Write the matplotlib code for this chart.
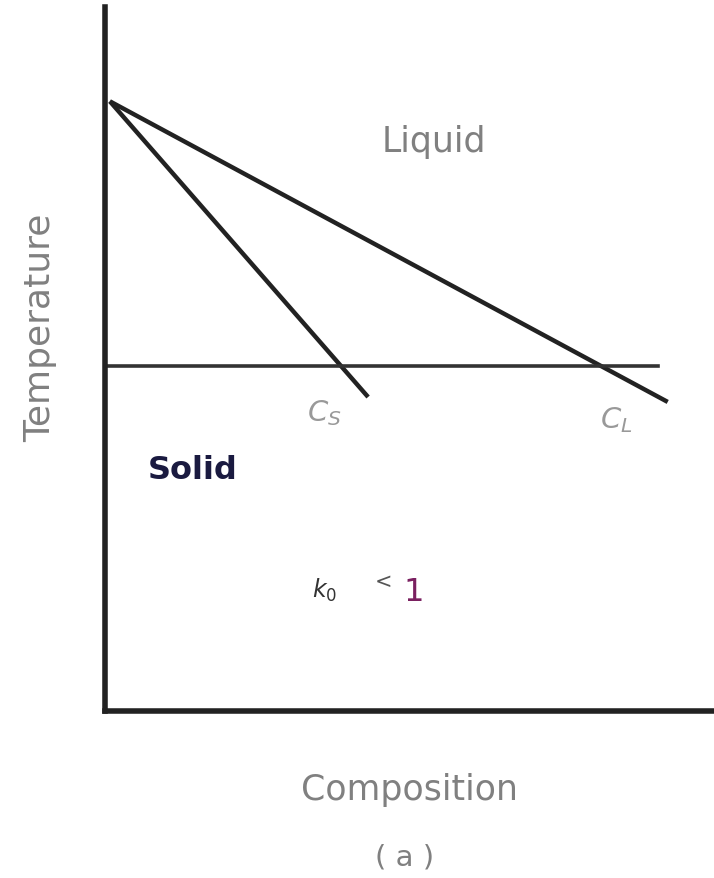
import matplotlib
matplotlib.use("Agg")
import matplotlib.pyplot as plt

# Phase diagram for a binary alloy with distribution coefficient k0 < 1
melt_point = (0.008, 0.866)        # pure solvent melting point (composition, temperature)
liquidus_end = (0.924, 0.439)
solidus_end = (0.432, 0.446)
tie_temperature = 0.490
tie_span = (0.0, 0.908)

fig = plt.figure(figsize=(7.14, 8.79), dpi=100)
ax = fig.add_axes([105 / 714, (879 - 712) / 879, (714 - 105) / 714, (712 - 8) / 879])
ax.set_xlim(0, 1)
ax.set_ylim(0, 1)
ax.set_xticks([])
ax.set_yticks([])
for side in ("top", "right"):
    ax.spines[side].set_visible(False)
for side in ("left", "bottom"):
    ax.spines[side].set_linewidth(4)
    ax.spines[side].set_color("#222222")

line_kw = dict(color="#222222", lw=3.2, solid_capstyle="butt")
ax.plot([melt_point[0], liquidus_end[0]], [melt_point[1], liquidus_end[1]], **line_kw)
ax.plot([melt_point[0], solidus_end[0]], [melt_point[1], solidus_end[1]], **line_kw)
ax.plot(tie_span, [tie_temperature, tie_temperature], color="#333333", lw=2.6)

gray = "#808080"
ax.text(0.54, 0.81, "Liquid", fontsize=25, color=gray, ha="center", va="center")
ax.text(0.36, 0.425, r"$C_S$", fontsize=21, color="#999999", ha="center", va="center")
ax.text(0.84, 0.415, r"$C_L$", fontsize=21, color="#999999", ha="center", va="center")
ax.text(0.07, 0.343, "Solid", fontsize=23, color="#1a1a40", fontweight="bold",
        ha="left", va="center")
ax.text(0.34, 0.173, r"$k_0$", fontsize=17, color="#333333", ha="left", va="center")
ax.text(0.435, 0.185, r"$<$", fontsize=15, color="#555555", ha="left", va="center")
ax.text(0.49, 0.170, "1", fontsize=23, color="#7a2060", ha="left", va="center")

fig.text(40 / 714, 1 - 328 / 879, "Temperature", rotation=90, fontsize=26,
         color=gray, ha="center", va="center")
fig.text(410 / 714, 1 - 790 / 879, "Composition", fontsize=25, color=gray,
         ha="center", va="center")
fig.text(405 / 714, 1 - 858 / 879, "( a )", fontsize=21, color=gray,
         ha="center", va="center")

fig.savefig("out.png", dpi=100)
